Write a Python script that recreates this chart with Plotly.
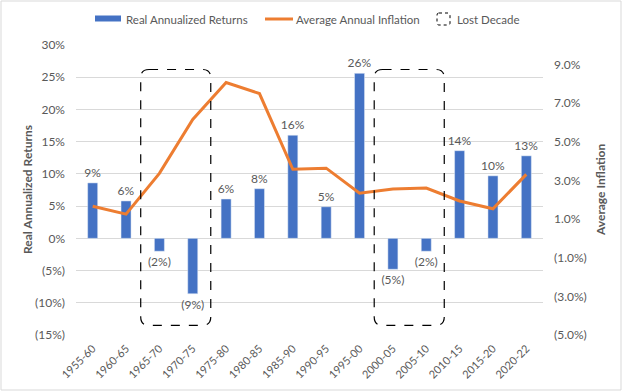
import plotly.graph_objects as go

categories = ["1955-60", "1960-65", "1965-70", "1970-75", "1975-80", "1980-85", "1985-90",
              "1990-95", "1995-00", "2000-05", "2005-10", "2010-15", "2015-20", "2020-22"]
real_returns = [8.6, 5.8, -2.0, -8.6, 6.1, 7.7, 16.0, 4.9, 25.6, -4.8, -2.0, 13.6, 9.7, 12.8]
avg_inflation = [1.66, 1.25, 3.36, 6.15, 8.06, 7.49, 3.57, 3.63, 2.33, 2.55, 2.60, 1.93, 1.53, 3.31]
lost_decades = [["1965-70", "1970-75"], ["2000-05", "2005-10"]]

left_ticks = [-15, -10, -5, 0, 5, 10, 15, 20, 25, 30]
right_ticks = [-5, -3, -1, 1, 3, 5, 7, 9]

BLUE = "#4472C4"
ORANGE = "#ED7D31"
GRAY = "#595959"
GRID = "#D9D9D9"
FONT = "Lato"
FS = 11


def pct0(v):
    return f"({abs(v):.0f}%)" if v < 0 else f"{v:.0f}%"


def pct1(v):
    return f"({abs(v):.1f}%)" if v < 0 else f"{v:.1f}%"


def lbl(v):
    r = int(abs(v) + 0.5)
    return f"({r}%)" if v < 0 else f"{r}%"


fig = go.Figure()
fig.add_trace(go.Bar(
    x=categories, y=real_returns, name="Real Annualized Returns",
    marker_color=BLUE, text=[lbl(v) for v in real_returns],
    textposition="outside", constraintext="none",
    textfont=dict(color=GRAY, size=FS + 1, family=FONT),
    cliponaxis=False, showlegend=False, yaxis="y"))
fig.add_trace(go.Scatter(
    x=categories, y=avg_inflation, name="Average Annual Inflation",
    mode="lines", line=dict(color=ORANGE, width=3), showlegend=False, yaxis="y2"))

# Lost-decade dashed rounded boxes
y_top, y_bot = 26.2, -13.5
rx, ry = 0.25, 1.3
for group in lost_decades:
    i0 = categories.index(group[0])
    i1 = categories.index(group[-1])
    x0, x1 = i0 - 0.56, i1 + 0.54
    path = (f"M {x0+rx},{y_top} L {x1-rx},{y_top} Q {x1},{y_top} {x1},{y_top-ry} "
            f"L {x1},{y_bot+ry} Q {x1},{y_bot} {x1-rx},{y_bot} "
            f"L {x0+rx},{y_bot} Q {x0},{y_bot} {x0},{y_bot+ry} "
            f"L {x0},{y_top-ry} Q {x0},{y_top} {x0+rx},{y_top} Z")
    fig.add_shape(type="path", path=path, xref="x", yref="y",
                  line=dict(color="black", width=1.2, dash="dash"))

# Manual legend (pixel-like paper positions)
W, H = 624, 392
L, R, T, B = 76, 81, 45, 57
pw, ph = W - L - R, H - T - B


def px(x):
    return (x - L) / pw


def py(y):
    return 1 - (y - T) / ph


fig.add_shape(type="rect", xref="paper", yref="paper", x0=px(95), x1=px(121), y0=py(21.5), y1=py(15.5),
              fillcolor=BLUE, line=dict(width=0))
fig.add_shape(type="line", xref="paper", yref="paper", x0=px(265), x1=px(293), y0=py(19), y1=py(19),
              line=dict(color=ORANGE, width=3))
fig.add_shape(type="path", xref="paper", yref="paper",
              path=f"M {px(439)},{py(13)} L {px(448)},{py(13)} Q {px(450)},{py(13)} {px(450)},{py(15)} "
                   f"L {px(450)},{py(23)} Q {px(450)},{py(25)} {px(448)},{py(25)} "
                   f"L {px(439)},{py(25)} Q {px(437)},{py(25)} {px(437)},{py(23)} "
                   f"L {px(437)},{py(15)} Q {px(437)},{py(13)} {px(439)},{py(13)} Z",
              line=dict(color="black", width=1, dash="dot"))
for xpos, name in [(124, "Real Annualized Returns"), (294, "Average Annual Inflation"), (455, "Lost Decade")]:
    fig.add_annotation(xref="paper", yref="paper", x=px(xpos), y=py(19), text=name, showarrow=False,
                       xanchor="left", yanchor="middle", font=dict(color=GRAY, size=FS + 0.5, family=FONT))

# Axis titles
fig.add_annotation(xref="paper", yref="paper", x=px(27), y=0.5, text="<b>Real Annualized Returns</b>",
                   textangle=-90, showarrow=False, xanchor="center", yanchor="middle",
                   font=dict(color=GRAY, size=FS + 1, family=FONT))
fig.add_annotation(xref="paper", yref="paper", x=px(600), y=0.5, text="<b>Average Inflation</b>",
                   textangle=-90, showarrow=False, xanchor="center", yanchor="middle",
                   font=dict(color=GRAY, size=FS + 1, family=FONT))

# Outer border
fig.add_shape(type="rect", xref="paper", yref="paper", x0=px(1), x1=px(621), y0=py(1), y1=py(390),
              line=dict(color=GRID, width=1))

fig.update_layout(
    width=W, height=H, margin=dict(l=L, r=R, t=T, b=B, autoexpand=False),
    paper_bgcolor="white", plot_bgcolor="white",
    font=dict(family=FONT, color=GRAY, size=FS),
    bargap=0.7, showlegend=False,
    xaxis=dict(type="category", tickangle=-45, showgrid=False, showline=False, ticks="",
               automargin=False, tickfont=dict(size=FS, color=GRAY), ticklabelstandoff=4),
    yaxis=dict(range=[-15, 30], tickvals=left_ticks, ticktext=[pct0(v) for v in left_ticks],
               showgrid=True, gridcolor=GRID, gridwidth=1, zeroline=False, showline=False,
               automargin=False, ticks="", tickfont=dict(size=FS + 1, color=GRAY), ticklabelstandoff=10),
    yaxis2=dict(range=[-5, 10], tickvals=right_ticks, ticktext=[pct1(v) for v in right_ticks],
                overlaying="y", side="right", showgrid=False, zeroline=False, showline=False,
                automargin=False, ticks="", tickfont=dict(size=FS + 1, color=GRAY), ticklabelstandoff=10),
)

fig.write_html("out.html", config={"displayModeBar": False},
               post_script="document.body.style.margin='0';document.body.style.overflow='hidden';")
